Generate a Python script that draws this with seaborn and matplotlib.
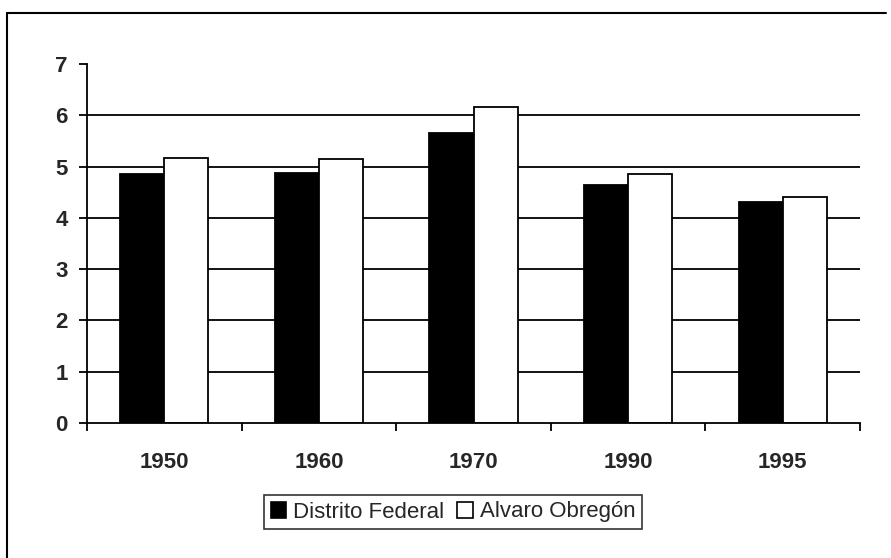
import matplotlib
matplotlib.use("Agg")
import matplotlib.pyplot as plt
import seaborn as sns
import pandas as pd
from matplotlib.lines import Line2D
from matplotlib.patches import Patch

years = ["1950", "1960", "1970", "1990", "1995"]
distrito_federal = [4.85, 4.88, 5.65, 4.65, 4.31]
alvaro_obregon = [5.16, 5.15, 6.17, 4.85, 4.40]
series_names = ["Distrito Federal", "Alvaro Obregón"]
y_ticks = [0, 1, 2, 3, 4, 5, 6, 7]

df = pd.DataFrame({
    "year": years * 2,
    "value": distrito_federal + alvaro_obregon,
    "serie": [series_names[0]] * len(years) + [series_names[1]] * len(years),
})

sns.set_style("white")
plt.rcParams["font.family"] = ["Liberation Sans", "DejaVu Sans"]

fig = plt.figure(figsize=(8.91, 5.58), dpi=100)
ax = fig.add_axes([87/891, 1-423/558, (860-87)/891, (423-64)/558])

sns.barplot(data=df, x="year", y="value", hue="serie", order=years,
            hue_order=series_names, palette=["black", "white"],
            width=0.57, edgecolor="black", linewidth=1.3, ax=ax,
            zorder=3, legend=False)

ax.set_ylim(0, 7)
ax.set_xlim(-0.5, len(years) - 0.5)
ax.set_yticks(y_ticks)
ax.set_yticklabels([str(t) for t in y_ticks], fontsize=16, fontweight="bold")
ax.set_xticks(range(len(years)))
ax.set_xticklabels(years, fontsize=16, fontweight="bold")
ax.set_xticks([i - 0.5 for i in range(len(years) + 1)], minor=True)
ax.tick_params(axis="x", which="both", bottom=True)
ax.tick_params(axis="y", which="both", left=True)
ax.tick_params(axis="x", which="major", length=0, pad=21)
ax.tick_params(axis="x", which="minor", length=6, width=1.3, direction="out", color="black")
ax.tick_params(axis="y", which="major", length=6, width=1.3, direction="out", color="black", pad=8)
ax.set_xlabel("")
ax.set_ylabel("")

# horizontal grid lines at each tick except the top one
for t in y_ticks[1:-1]:
    ax.axhline(t, color="black", linewidth=1.3, zorder=0)

for s in ["top", "right"]:
    ax.spines[s].set_visible(False)
for s in ["left", "bottom"]:
    ax.spines[s].set_color("black")
    ax.spines[s].set_linewidth(1.3)
    ax.spines[s].set_zorder(4)

handles = [Patch(facecolor="black", edgecolor="black", linewidth=1.2),
           Patch(facecolor="white", edgecolor="black", linewidth=1.2)]
leg = fig.legend(handles, series_names, loc="center", bbox_to_anchor=(453/891, 1-512/558),
                 ncol=2, frameon=True, fancybox=False, fontsize=16,
                 handlelength=0.7, handleheight=0.7, handletextpad=0.3,
                 columnspacing=0.6, borderpad=0.3, borderaxespad=0)
leg.get_frame().set_edgecolor("black")
leg.get_frame().set_linewidth(1.2)

# page border (left and top)
fig.add_artist(Line2D([7/891, 7/891], [0, 1-13/558], color="black", linewidth=1.5, transform=fig.transFigure))
fig.add_artist(Line2D([7/891, 886/891], [1-13/558, 1-13/558], color="black", linewidth=1.5, transform=fig.transFigure))

fig.savefig("out.png", dpi=100)
